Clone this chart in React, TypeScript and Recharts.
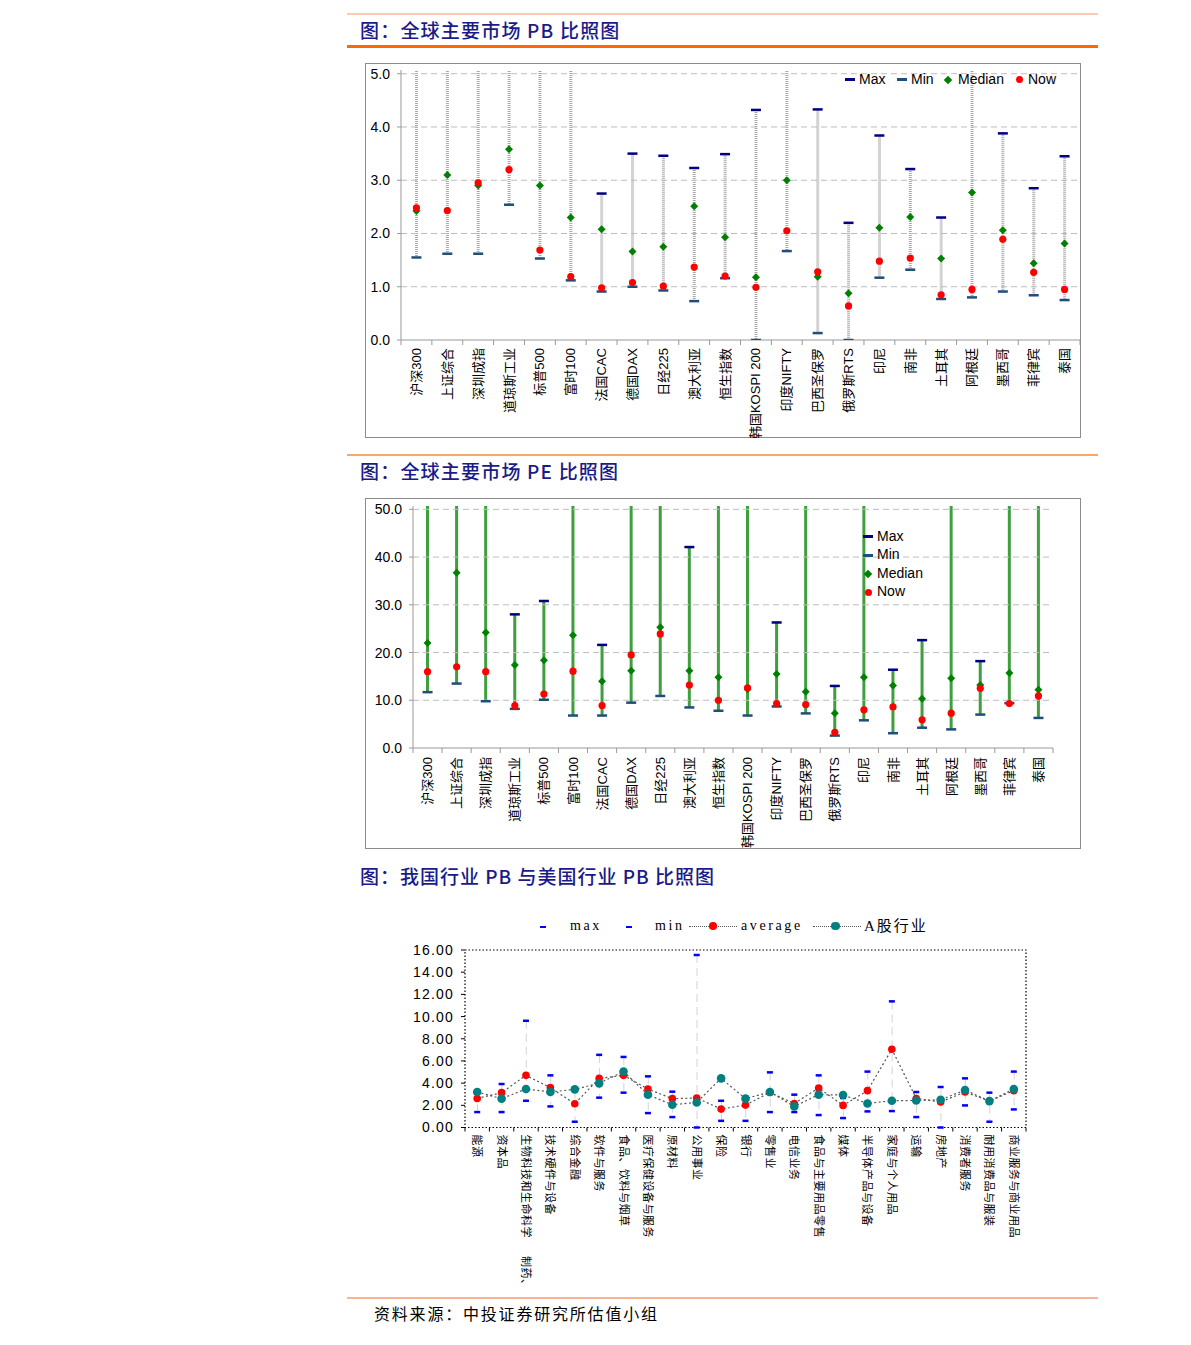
import React from 'react';
import { ComposedChart, Bar, Line, XAxis, YAxis, ReferenceLine, ReferenceArea } from 'recharts';

const SANS = '"Liberation Sans", Arial, "Noto Sans CJK SC", sans-serif';
const CJK = '"Noto Sans CJK SC", sans-serif';
const SERIF = '"Liberation Serif", "Noto Sans CJK SC", serif';

// ---- global markets (PB / PE) ----
const markets = [
  '沪深300', '上证综合', '深圳成指', '道琼斯工业', '标普500', '富时100', '法国CAC', '德国DAX',
  '日经225', '澳大利亚', '恒生指数', '韩国KOSPI 200', '印度NIFTY', '巴西圣保罗', '俄罗斯RTS',
  '印尼', '南非', '土耳其', '阿根廷', '墨西哥', '菲律宾', '泰国',
];

// 5.2 / 55 = above the top of the axis in the picture (line runs off the plot)
const pbMax = [5.2, 5.2, 5.2, 5.2, 5.2, 5.2, 2.75, 3.5, 3.46, 3.23, 3.49, 4.32, 5.2, 4.33, 2.2, 3.84, 3.21, 2.3, 5.2, 3.88, 2.85, 3.45];
const pbMin = [1.55, 1.62, 1.62, 2.54, 1.53, 1.12, 0.91, 1.0, 0.93, 0.73, 1.16, 0.0, 1.67, 0.13, 0.0, 1.17, 1.32, 0.77, 0.8, 0.91, 0.84, 0.75];
const pbMedian = [2.42, 3.1, 2.9, 3.58, 2.9, 2.3, 2.08, 1.66, 1.75, 2.51, 1.93, 1.18, 3.0, 1.19, 0.88, 2.11, 2.31, 1.53, 2.77, 2.06, 1.44, 1.81];
const pbNow = [2.48, 2.43, 2.95, 3.2, 1.69, 1.19, 0.98, 1.08, 1.01, 1.37, 1.2, 0.99, 2.05, 1.28, 0.64, 1.48, 1.54, 0.85, 0.95, 1.89, 1.27, 0.95];

const peMax = [55, 55, 55, 28.0, 30.8, 55, 21.6, 55, 55, 42.1, 55, 55, 26.3, 55, 13.0, 55, 16.4, 22.6, 55, 18.2, 55, 55];
const peMin = [11.7, 13.5, 9.8, 8.2, 10.1, 6.8, 6.8, 9.5, 10.9, 8.5, 7.8, 6.8, 8.7, 7.25, 2.6, 5.8, 3.1, 4.25, 3.9, 7.0, 9.4, 6.3];
const peMedian = [22.0, 36.7, 24.2, 17.4, 18.4, 23.6, 14.0, 16.2, 25.3, 16.2, 14.8, 12.3, 15.5, 11.8, 7.3, 14.8, 13.1, 10.3, 14.6, 13.2, 15.7, 12.2];
const peNow = [16.0, 17.0, 16.0, 8.9, 11.3, 16.1, 8.9, 19.5, 23.9, 13.2, 10.0, 12.6, 9.3, 9.1, 3.3, 8.0, 8.6, 5.9, 7.3, 12.5, 9.3, 10.9];

const pbTicks = [0, 1, 2, 3, 4, 5];
const peTicks = [0, 10, 20, 30, 40, 50];

// ---- industries (China vs US PB) ----
const industries = [
  '能源', '资本品', '制药、生物科技和生命科学', '技术硬件与设备', '综合金融', '软件与服务',
  '食品、饮料与烟草', '医疗保健设备与服务', '原材料', '公用事业', '保险', '银行', '零售业',
  '电信业务', '食品与主要用品零售', '媒体', '半导体产品与设备', '家庭与个人用品', '运输',
  '房地产', '消费者服务', '耐用消费品与服装', '商业服务与商业用品',
];
const indMax = [3.3, 3.92, 9.62, 4.7, 3.35, 6.55, 6.36, 4.61, 3.23, 15.55, 2.41, 2.75, 4.97, 2.96, 4.7, 2.66, 5.04, 11.37, 3.2, 3.65, 4.43, 3.14, 5.04];
const indMin = [1.39, 1.39, 2.41, 1.9, 0.52, 2.69, 3.14, 1.3, 0.94, 0.0, 0.6, 0.6, 1.39, 1.39, 1.12, 0.85, 1.45, 1.48, 0.94, 0.0, 1.99, 0.52, 1.63];
const indAverage = [2.62, 3.14, 4.7, 3.59, 2.14, 4.43, 4.7, 3.47, 2.6, 2.66, 1.66, 2.02, 3.15, 2.17, 3.56, 1.99, 3.32, 7.05, 2.62, 2.3, 3.2, 2.38, 3.32];
const indAShare = [3.2, 2.6, 3.47, 3.2, 3.44, 3.98, 5.04, 2.96, 2.05, 2.26, 4.43, 2.6, 3.2, 1.9, 2.96, 2.93, 2.17, 2.41, 2.44, 2.5, 3.38, 2.38, 3.47];
const indTicks = [0, 2, 4, 6, 8, 10, 12, 14, 16];

const pbRows = markets.map((name, i) => ({
  name, range: [pbMin[i], pbMax[i]], max: pbMax[i], min: pbMin[i], median: pbMedian[i], now: pbNow[i],
}));
const peRows = markets.map((name, i) => ({
  name, range: [peMin[i], peMax[i]], max: peMax[i], min: peMin[i], median: peMedian[i], now: peNow[i],
}));
const indRows = industries.map((name, i) => ({
  name, range: [indMin[i], indMax[i]], max: indMax[i], min: indMin[i], avg: indAverage[i], ashare: indAShare[i],
}));

// ---- marks ----
const ok = (p: any) => p.cx != null && p.cy != null && !isNaN(p.cy);
const dash = (color: string, w: number, h = 2.5) => (p: any) =>
  ok(p) ? <rect key={`d${p.index}`} x={p.cx - w / 2} y={p.cy - h / 2} width={w} height={h} fill={color} /> : <g key={`d${p.index}`} />;
const diamond = (color: string, r: number) => (p: any) =>
  ok(p) ? (
    <polygon key={`m${p.index}`} points={`${p.cx},${p.cy - r} ${p.cx + r},${p.cy} ${p.cx},${p.cy + r} ${p.cx - r},${p.cy}`} fill={color} />
  ) : <g key={`m${p.index}`} />;
const circle = (color: string, r: number) => (p: any) =>
  ok(p) ? <circle key={`c${p.index}`} cx={p.cx} cy={p.cy} r={r} fill={color} /> : <g key={`c${p.index}`} />;

const vline = (color: string, w: number, dashArr?: string) => (p: any) => (
  <line x1={p.x + p.width / 2} x2={p.x + p.width / 2} y1={p.y} y2={p.y + p.height}
    stroke={color} strokeWidth={w} strokeDasharray={dashArr} />
);

// x tick: boundary ticks between categories + rotated label
const bandTick = (band: number, last: string, o: { gap: number; rot: number; size: number; font: string; tickColor: string; tickLen: number; spacing?: number }) =>
  (p: any) => {
    const { x, y, payload } = p;
    const v: string = payload.value;
    let label: React.ReactNode = v;
    if (o.rot > 0 && v.length > 10 && v.indexOf('、') > 0) {
      // the long label wraps in the picture: its head sits below the rest
      const k = v.indexOf('、') + 1;
      label = (<><tspan>{v.slice(k)}</tspan><tspan dx={18}>{v.slice(0, k)}</tspan></>);
    }
    return (
      <g>
        <line x1={x - band / 2} x2={x - band / 2} y1={y} y2={y + o.tickLen} stroke={o.tickColor} />
        {v === last && <line x1={x + band / 2} x2={x + band / 2} y1={y} y2={y + o.tickLen} stroke={o.tickColor} />}
        <text transform={`translate(${x},${y + o.gap}) rotate(${o.rot})`} textAnchor={o.rot < 0 ? 'end' : 'start'}
          dominantBaseline="central" fontSize={o.size} fontFamily={o.font} fill="#000"
          style={{ letterSpacing: o.spacing ? `${o.spacing}px` : undefined }}>
          {label}
        </text>
      </g>
    );
  };

const abs = (left: number, top: number, extra: React.CSSProperties = {}): React.CSSProperties => ({ position: 'absolute', left, top, ...extra });
const label = (left: number, cy: number, size: number, extra: React.CSSProperties = {}): React.CSSProperties =>
  abs(left, cy - size * 0.6, { fontSize: size, lineHeight: `${size * 1.2}px`, whiteSpace: 'nowrap', ...extra });

const NAVY = '#000080';
const MINBLUE = '#1f4e79';
const GREEN = '#008000';
const RED = '#ff0000';

const PB_W = 715, PB_YW = 36;
const PB_BAND = (PB_W - PB_YW) / markets.length;
const PE_W = 716, PE_YW = 48, PE_R = 28;
const PE_BAND = (PE_W - PE_YW - PE_R) / markets.length;
const IND_W = 640, IND_L = 5, IND_YW = 60, IND_R = 14;
const IND_BAND = (IND_W - IND_L - IND_YW - IND_R) / industries.length;

const grid = (ticks: number[]) =>
  ticks.slice(1).map((t) => <ReferenceLine key={t} y={t} stroke="#bdbdbd" strokeDasharray="6 4" />);

function PBChart() {
  return (
    <>
      <div style={abs(365, 63, { width: 716, height: 375, border: '1px solid #8c8c8c', boxSizing: 'border-box' })} />
      <div style={abs(365, 63)}>
        <ComposedChart width={PB_W} height={375} data={pbRows} margin={{ top: 7, right: 0, bottom: 0, left: 0 }}>
          <XAxis dataKey="name" interval={0} height={98} tickSize={0} tickMargin={0} tickLine={false}
            axisLine={{ stroke: '#999' }}
            tick={bandTick(PB_BAND, '泰国', { gap: 8, rot: -90, size: 13, font: SANS, tickColor: '#999', tickLen: 5 })} />
          <YAxis width={PB_YW} domain={[0, 5.07]} ticks={pbTicks} allowDataOverflow
            tickFormatter={(v: number) => v.toFixed(1)} axisLine={{ stroke: '#999' }} tickLine={{ stroke: '#999' }}
            tickSize={4} tickMargin={7} tick={{ fill: '#000', fontSize: 14, fontFamily: SANS }} />
          {grid(pbTicks)}
          <Bar dataKey="range" barSize={3} shape={vline('#a8a8a8', 3, '1 1')} isAnimationActive={false} />
          <Line dataKey="max" stroke="none" dot={dash(NAVY, 10)} activeDot={false} isAnimationActive={false} />
          <Line dataKey="min" stroke="none" dot={dash(MINBLUE, 10)} activeDot={false} isAnimationActive={false} />
          <Line dataKey="median" stroke="none" dot={diamond(GREEN, 4)} activeDot={false} isAnimationActive={false} />
          <Line dataKey="now" stroke="none" dot={circle(RED, 3.6)} activeDot={false} isAnimationActive={false} />
        </ComposedChart>
      </div>
      {/* legend */}
      <div style={abs(845, 78, { width: 10, height: 2.5, background: NAVY })} />
      <div style={label(859, 79.5, 14, { fontFamily: SANS })}>Max</div>
      <div style={abs(897, 78, { width: 10, height: 2.5, background: MINBLUE })} />
      <div style={label(911, 79.5, 14, { fontFamily: SANS })}>Min</div>
      <div style={abs(945, 76.5, { width: 6, height: 6, background: GREEN, transform: 'rotate(45deg)' })} />
      <div style={label(958, 79.5, 14, { fontFamily: SANS })}>Median</div>
      <div style={abs(1015.5, 75.8, { width: 7, height: 7, borderRadius: '50%', background: RED })} />
      <div style={label(1028, 79.5, 14, { fontFamily: SANS })}>Now</div>
    </>
  );
}

function PEChart() {
  return (
    <>
      <div style={abs(365, 498, { width: 716, height: 351, border: '1px solid #8c8c8c', boxSizing: 'border-box' })} />
      <div style={abs(365, 498)}>
        <ComposedChart width={PE_W} height={350} data={peRows} margin={{ top: 8, right: PE_R, bottom: 0, left: 0 }}>
          <XAxis dataKey="name" interval={0} height={100} tickSize={0} tickMargin={0} tickLine={false}
            axisLine={{ stroke: '#999' }}
            tick={bandTick(PE_BAND, '泰国', { gap: 9, rot: -90, size: 13, font: SANS, tickColor: '#999', tickLen: 5 })} />
          <YAxis width={PE_YW} domain={[0, 50.7]} ticks={peTicks} allowDataOverflow
            tickFormatter={(v: number) => v.toFixed(1)} axisLine={{ stroke: '#999' }} tickLine={{ stroke: '#999' }}
            tickSize={4} tickMargin={7} tick={{ fill: '#000', fontSize: 14, fontFamily: SANS }} />
          {grid(peTicks)}
          <Bar dataKey="range" barSize={3} shape={vline('#3f9f3f', 3)} isAnimationActive={false} />
          <Line dataKey="max" stroke="none" dot={dash(NAVY, 10)} activeDot={false} isAnimationActive={false} />
          <Line dataKey="min" stroke="none" dot={dash(MINBLUE, 10)} activeDot={false} isAnimationActive={false} />
          <Line dataKey="median" stroke="none" dot={diamond(GREEN, 4)} activeDot={false} isAnimationActive={false} />
          <Line dataKey="now" stroke="none" dot={circle(RED, 3.6)} activeDot={false} isAnimationActive={false} />
        </ComposedChart>
      </div>
      {/* legend */}
      <div style={abs(863, 535, { width: 10, height: 2.5, background: NAVY })} />
      <div style={label(877, 536, 14, { fontFamily: SANS })}>Max</div>
      <div style={abs(863, 554, { width: 10, height: 2.5, background: MINBLUE })} />
      <div style={label(877, 554.5, 14, { fontFamily: SANS })}>Min</div>
      <div style={abs(865, 571, { width: 6, height: 6, background: GREEN, transform: 'rotate(45deg)' })} />
      <div style={label(877, 573, 14, { fontFamily: SANS })}>Median</div>
      <div style={abs(864.5, 589, { width: 7, height: 7, borderRadius: '50%', background: RED })} />
      <div style={label(877, 591.5, 14, { fontFamily: SANS })}>Now</div>
    </>
  );
}

function IndustryChart() {
  const legendFont: React.CSSProperties = { fontFamily: SERIF, letterSpacing: '2.6px' };
  return (
    <>
      <div style={abs(400, 940)}>
        <ComposedChart width={IND_W} height={370} data={indRows} margin={{ top: 10, right: IND_R, bottom: 0, left: IND_L }}>
          <ReferenceArea y1={0} y2={16} fill="none" stroke="#000" strokeWidth={1.2} strokeDasharray="1.5 2" />
          <XAxis dataKey="name" interval={0} height={182.5} tickSize={0} tickMargin={0} tickLine={false} axisLine={false}
            tick={bandTick(IND_BAND, '商业服务与商业用品', { gap: 7, rot: 90, size: 11, font: SERIF, tickColor: '#000', tickLen: 4, spacing: 0.5 })} />
          <YAxis width={IND_YW} domain={[0, 16]} ticks={indTicks} tickFormatter={(v: number) => v.toFixed(2)}
            axisLine={false} tickLine={{ stroke: '#000' }} tickSize={4} tickMargin={7}
            tick={{ fill: '#000', fontSize: 14, fontFamily: SANS, style: { letterSpacing: '1.2px' } }} />
          <Bar dataKey="range" barSize={1} shape={vline('#d4d4d4', 1, '8 5')} isAnimationActive={false} />
          <Line dataKey="max" stroke="none" dot={dash('#0000ff', 6)} activeDot={false} isAnimationActive={false} />
          <Line dataKey="min" stroke="none" dot={dash('#0000ff', 6)} activeDot={false} isAnimationActive={false} />
          <Line dataKey="avg" stroke="#555" strokeWidth={1.2} strokeDasharray="2 2.5" dot={circle('#ff0000', 3.8)} activeDot={false} isAnimationActive={false} />
          <Line dataKey="ashare" stroke="#555" strokeWidth={1.2} strokeDasharray="2 2.5" dot={circle('#008080', 4.3)} activeDot={false} isAnimationActive={false} />
        </ComposedChart>
      </div>
      {/* legend */}
      <div style={abs(540, 925.5, { width: 6, height: 2.5, background: '#0000ff' })} />
      <div style={label(570, 926, 14, legendFont)}>max</div>
      <div style={abs(626, 925.5, { width: 6, height: 2.5, background: '#0000ff' })} />
      <div style={label(655, 926, 14, legendFont)}>min</div>
      <div style={abs(689, 926, { width: 48, borderTop: '1.2px dotted #555' })} />
      <div style={abs(709, 922.3, { width: 7.6, height: 7.6, borderRadius: '50%', background: '#ff0000' })} />
      <div style={label(741, 926, 14, legendFont)}>average</div>
      <div style={abs(813, 926, { width: 48, borderTop: '1.2px dotted #555' })} />
      <div style={abs(831, 921.7, { width: 8.6, height: 8.6, borderRadius: '50%', background: '#008080' })} />
      <div style={label(864, 926, 15, { fontFamily: SERIF, letterSpacing: '2px' })}>A股行业</div>
    </>
  );
}

export default function App() {
  const title: React.CSSProperties = { fontFamily: CJK, color: '#1a1a88', letterSpacing: '1.2px', fontWeight: 500 };
  return (
    <div style={{ position: 'relative', width: 1191, height: 1345, background: '#fff', overflow: 'hidden' }}>
      <style>{'body{margin:0}'}</style>
      {/* header 1 */}
      <div style={abs(347, 13, { width: 751, height: 2, background: '#fbc9b5' })} />
      <div style={label(360, 30, 19, title)}>图：全球主要市场 PB 比照图</div>
      <div style={abs(347, 45, { width: 751, height: 3, background: '#ff6a00' })} />
      <PBChart />
      {/* header 2 */}
      <div style={abs(347, 454, { width: 751, height: 2, background: '#f8a867' })} />
      <div style={label(360, 471, 19, title)}>图：全球主要市场 PE 比照图</div>
      <PEChart />
      {/* header 3 */}
      <div style={label(360, 876, 19, { ...title, letterSpacing: '1px' })}>图：我国行业 PB 与美国行业 PB 比照图</div>
      <IndustryChart />
      {/* footer */}
      <div style={abs(347, 1297, { width: 751, height: 2, background: '#f7b49c' })} />
      <div style={label(374, 1314, 16, { fontFamily: CJK, color: '#000', letterSpacing: '1.8px' })}>资料来源：中投证券研究所估值小组</div>
    </div>
  );
}
